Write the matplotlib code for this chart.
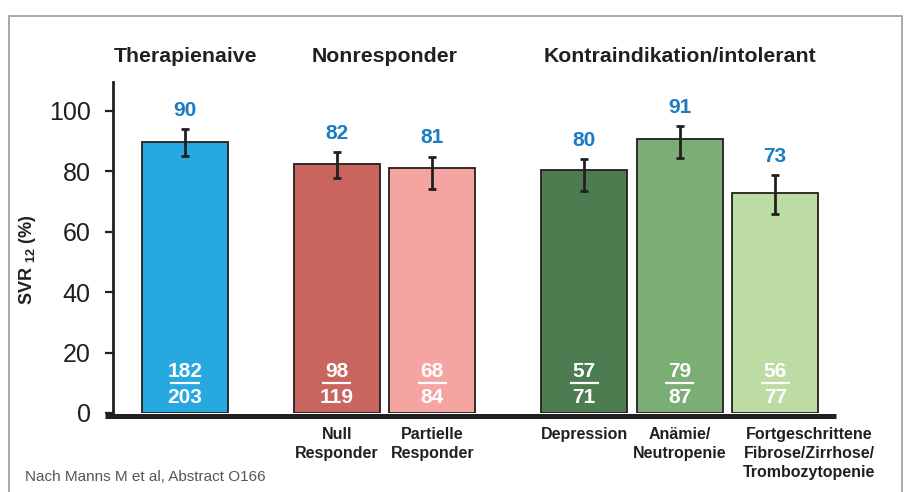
import matplotlib
matplotlib.use("Agg")
import matplotlib.pyplot as plt
from matplotlib.lines import Line2D
import numpy as np

plt.rcParams['font.family'] = ['Liberation Sans', 'DejaVu Sans']
plt.rcParams['mathtext.fontset'] = 'custom'
plt.rcParams['mathtext.rm'] = 'Liberation Sans:bold'
plt.rcParams['mathtext.bf'] = 'Liberation Sans:bold'
plt.rcParams['mathtext.default'] = 'bf'

# ---------------- data ----------------
groups = ["Therapienaive", "Nonresponder", "Kontraindikation/intolerant"]
group_sizes = [1, 2, 3]
categories = ["", "Null\nResponder", "Partielle\nResponder", "Depression",
              "Anämie/\nNeutropenie", "Fortgeschrittene\nFibrose/Zirrhose/\nTrombozytopenie"]
svr_values = [89.7, 82.4, 81.0, 80.3, 90.8, 72.7]
value_labels = ["90", "82", "81", "80", "91", "73"]
ci_low = [85.1, 77.7, 74.1, 73.6, 84.3, 65.9]
ci_high = [94.0, 86.5, 84.9, 84.1, 95.0, 78.8]
numerators = ["182", "98", "68", "57", "79", "56"]
denominators = ["203", "119", "84", "71", "87", "77"]
yticks = [0, 20, 40, 60, 80, 100]

colors = ["#27a8df", "#c9655f", "#f5a5a1", "#4e7c51", "#7bae74", "#bcdca4"]
dark = "#231f20"
blue_txt = "#1b7bc4"

# positions from group structure
group_gap = 0.59
positions = []
x = 0.0
for gi, n in enumerate(group_sizes):
    for k in range(n):
        positions.append(x)
        x += 1
    x += group_gap
positions = np.array(positions)

fig = plt.figure(figsize=(9.06, 4.92), dpi=100)
ax = fig.add_axes([113/906, 1-413/492, (836-113)/906, (413-82)/492])
ax.set_xlim(-0.754, 6.817)
ax.set_ylim(0, 109.6)

ax.bar(positions, svr_values, width=0.9, color=colors, edgecolor=dark,
       linewidth=1.3, zorder=2)

vals = np.array(svr_values)
yerr = np.vstack([vals - np.array(ci_low), np.array(ci_high) - vals])
ax.errorbar(positions, vals, yerr=yerr, fmt='none', ecolor=dark,
            elinewidth=2.0, capsize=3.2, capthick=2.0, zorder=3)

for xp, hi, lab in zip(positions, ci_high, value_labels):
    ax.annotate(lab, (xp, hi), xytext=(0, 13.5), textcoords='offset points',
                ha='center', va='center', fontsize=15, fontweight='bold',
                color=blue_txt)

for xp, num, den in zip(positions, numerators, denominators):
    ax.text(xp, 13.7, num, ha='center', va='center', fontsize=15,
            fontweight='bold', color='white', zorder=4)
    ax.text(xp, 5.2, den, ha='center', va='center', fontsize=15,
            fontweight='bold', color='white', zorder=4)
    ax.plot([xp - 0.152, xp + 0.152], [9.8, 9.8], color='white', lw=1.6,
            solid_capstyle='butt', zorder=4)

# group headers
start = 0
for g, n in zip(groups, group_sizes):
    cx = positions[start:start + n].mean() if n < 3 else positions[start + 1]
    ax.text(cx, 117.9, g, ha='center', va='center', fontsize=15.3,
            fontweight='bold', color=dark, clip_on=False)
    start += n

# category labels
label_dx = [0, 0, 0, 0, 0, 24.5]
for xp, lab, dx in zip(positions, categories, label_dx):
    if lab:
        ax.annotate(lab, (xp, 0), xytext=(dx, -10), textcoords='offset points',
                    ha='center', va='top', fontsize=11.5, fontweight='bold',
                    color=dark, linespacing=1.32, annotation_clip=False)

# axes styling
for s in ['top', 'right', 'bottom']:
    ax.spines[s].set_visible(False)
ax.spines['left'].set_linewidth(2.0)
ax.spines['left'].set_color(dark)
ax.set_xticks([])
ax.set_yticks(yticks)
ax.tick_params(axis='y', length=6, width=1.6, color=dark, pad=10,
               labelsize=18, labelcolor=dark)

# thick baseline
fig.add_artist(Line2D([105/906, 836/906], [1-415.5/492, 1-415.5/492],
                      color=dark, lw=3.6, solid_capstyle='butt'))

# y label
fig.text(28/906, 1-260/492, 'SVR $_{12}$ (%)', rotation=90, ha='center',
         va='center', fontsize=13, fontweight='bold', color=dark)

# footnote
fig.text(25/906, 1-477/492, 'Nach Manns M et al, Abstract O166', ha='left',
         va='center', fontsize=11, color='#555555')

# frame
fig.add_artist(Line2D([9/906, 9/906, 902/906, 902/906],
                      [0, 1-15.6/492, 1-15.6/492, 0], color='#a8a8a8', lw=1.4))

fig.savefig("out.png", dpi=100)
